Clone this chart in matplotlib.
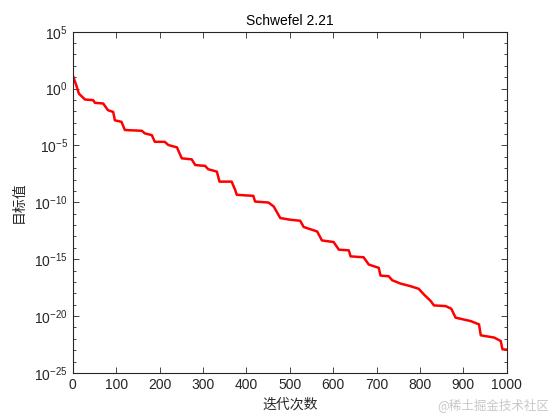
import numpy as np
import matplotlib
matplotlib.use("Agg")
import matplotlib.pyplot as plt
from matplotlib.ticker import FixedLocator, NullFormatter

plt.rcParams['font.family'] = ['Liberation Sans', 'Noto Sans CJK SC', 'DejaVu Sans']
plt.rcParams['mathtext.fontset'] = 'custom'
plt.rcParams['mathtext.rm'] = 'Liberation Sans'
plt.rcParams['mathtext.it'] = 'Liberation Sans:italic'
plt.rcParams['mathtext.default'] = 'regular'

# convergence curve, breakpoints (iteration, log10 of best value)
iters = [0, 8, 14, 28, 47, 51, 70, 81, 93, 97, 112, 120, 159, 166, 182, 189, 212,
         220, 240, 251, 274, 282, 305, 312, 332, 338, 366, 374, 378, 416, 420, 451,
         463, 478, 501, 524, 532, 563, 574, 601, 613, 636, 640, 670, 682, 705, 709,
         728, 736, 755, 778, 797, 809, 825, 832, 859, 872, 882, 917, 936, 940, 971,
         986, 990, 1000]
log_best = [1.16, 0.29, -0.44, -0.96, -1.02, -1.25, -1.31, -1.90, -2.05, -2.79, -2.92,
            -3.64, -3.71, -3.94, -4.09, -4.68, -4.68, -4.96, -5.17, -6.13, -6.22, -6.72,
            -6.80, -7.09, -7.30, -8.18, -8.18, -8.90, -9.34, -9.43, -9.93, -10.02,
            -10.37, -11.38, -11.53, -11.62, -12.17, -12.56, -13.35, -13.49, -14.16,
            -14.22, -14.75, -14.83, -15.47, -15.76, -16.44, -16.50, -16.85, -17.14,
            -17.37, -17.60, -18.10, -18.69, -19.06, -19.12, -19.35, -20.14, -20.44,
            -20.73, -21.69, -21.89, -22.19, -22.92, -22.95]

xticks = [0, 100, 200, 300, 400, 500, 600, 700, 800, 900, 1000]
yticks = [1e-25, 1e-20, 1e-15, 1e-10, 1e-5, 1e0, 1e5]
ytick_labels = ['$10^{-25}$', '$10^{-20}$', '$10^{-15}$', '$10^{-10}$',
                '$10^{-5}$', '$10^{0}$', '$10^{5}$']

fig = plt.figure(figsize=(5.6, 4.2), dpi=100)
ax = fig.add_axes([0.13, 0.112, 0.775, 0.8125])

best = 10.0 ** np.array(log_best)
ax.semilogy(iters, best, color='#ff0000', linewidth=1.8)

ax.set_xlim(0, 1000)
ax.set_ylim(1e-25, 1e5)
ax.set_xticks(xticks)
ax.set_xticklabels([str(v) for v in xticks])
ax.set_yticks(yticks)
ax.set_yticklabels(ytick_labels)
ax.yaxis.set_minor_locator(FixedLocator([10.0 ** k for k in range(-25, 6)]))
ax.yaxis.set_minor_formatter(NullFormatter())
ax.xaxis.set_minor_locator(FixedLocator([]))

ax.tick_params(which='both', direction='in', top=True, right=True,
               colors='#262626', labelcolor='#262626', labelsize=10)
ax.tick_params(which='major', length=4, width=0.6)
ax.tick_params(which='minor', length=2, width=0.6)
for sp in ax.spines.values():
    sp.set_linewidth(0.8)
    sp.set_color('#262626')

ax.set_title('Schwefel 2.21', fontsize=10, color='black', pad=5)
ax.set_xlabel('迭代次数', fontsize=10, color='#262626',
              family=['Noto Sans CJK SC', 'DejaVu Sans'])
ax.set_ylabel('目标值', fontsize=10, color='#262626', labelpad=6,
              family=['Noto Sans CJK SC', 'DejaVu Sans'])

fig.text(0.98, 0.035, '@稀土掘金技术社区', ha='right', va='center', fontsize=9,
         color='#c8c8c8', family=['Noto Sans CJK SC', 'DejaVu Sans'])

fig.savefig('out.png', dpi=100, facecolor='white')
